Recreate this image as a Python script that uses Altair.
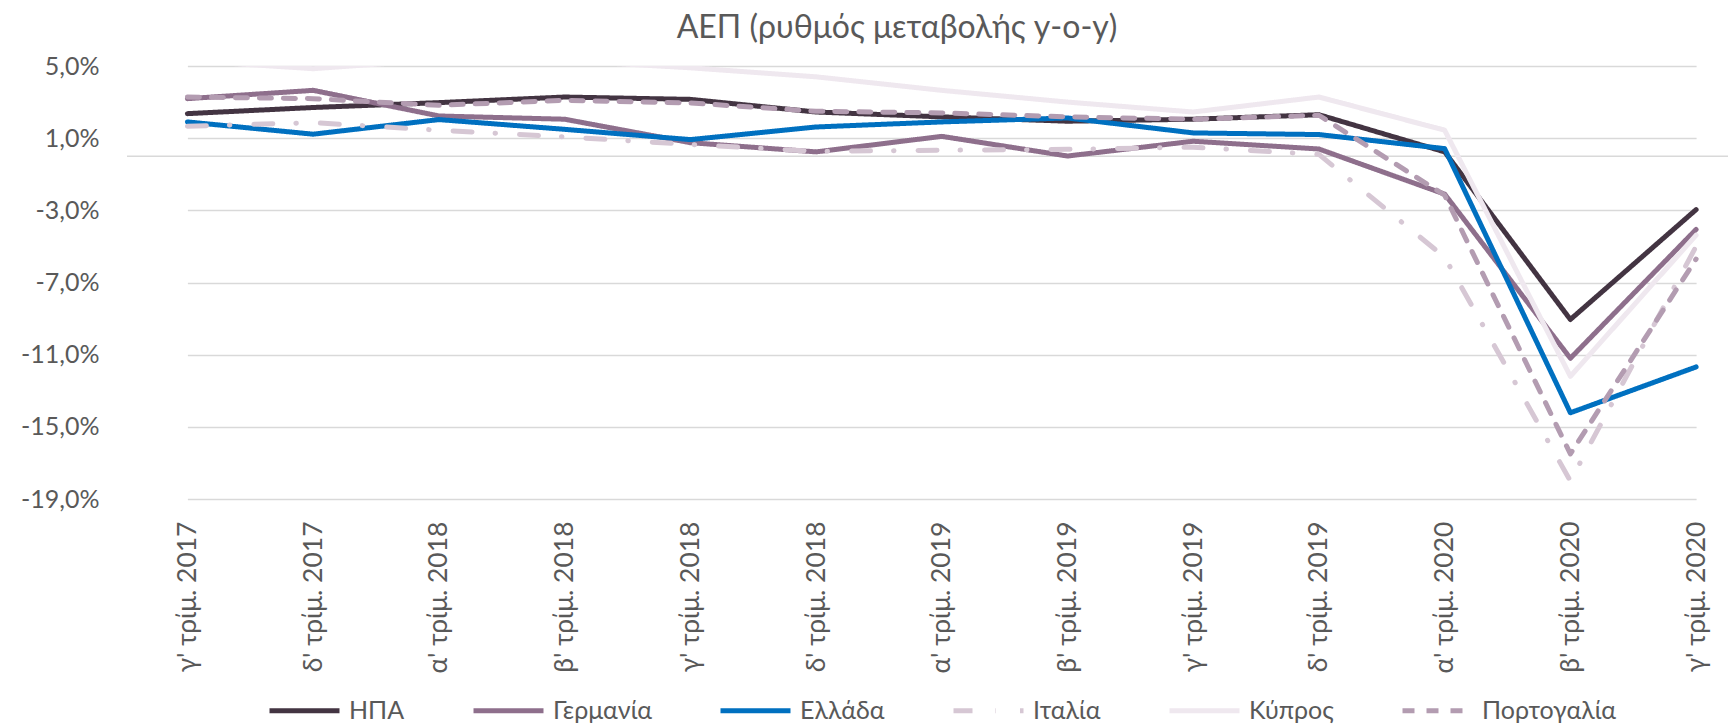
import altair as alt
import pandas as pd

categories = ["γ' τρίμ. 2017", "δ' τρίμ. 2017", "α' τρίμ. 2018", "β' τρίμ. 2018",
              "γ' τρίμ. 2018", "δ' τρίμ. 2018", "α' τρίμ. 2019", "β' τρίμ. 2019",
              "γ' τρίμ. 2019", "δ' τρίμ. 2019", "α' τρίμ. 2020", "β' τρίμ. 2020",
              "γ' τρίμ. 2020"]

usa      = [2.36, 2.70, 2.97, 3.28, 3.15, 2.45, 2.18, 1.94, 2.05, 2.30, 0.24, -9.05, -2.96]
germany  = [3.19, 3.65, 2.23, 2.05, 0.75, 0.24, 1.10, 0.01, 0.83, 0.40, -2.10, -11.20, -4.06]
greece   = [1.90, 1.22, 2.03, 1.49, 0.92, 1.62, 1.90, 2.12, 1.29, 1.20, 0.42, -14.22, -11.68]
italy    = [1.66, 1.86, 1.44, 1.07, 0.65, 0.27, 0.33, 0.38, 0.50, 0.10, -5.60, -18.00, -5.00]
cyprus   = [5.30, 4.85, 5.35, 5.30, 4.90, 4.40, 3.65, 3.00, 2.45, 3.28, 1.44, -12.20, -4.38]
portugal = [3.28, 3.19, 2.82, 3.10, 2.95, 2.49, 2.40, 2.18, 2.05, 2.27, -2.16, -16.50, -5.70]

series_names = ["ΗΠΑ", "Γερμανία", "Ελλάδα", "Ιταλία", "Κύπρος", "Πορτογαλία"]
series_values = [usa, germany, greece, italy, cyprus, portugal]
series_colors = ["#433442", "#8E6F8C", "#0070C0", "#D6C7D4", "#EFE8EF", "#B39CB1"]
series_dashes = [[1, 0], [1, 0], [1, 0], [19, 23, 0.5, 24], [1, 0], [12, 12]]

y_ticks = [-19, -15, -11, -7, -3, 1, 5]
title_text = "ΑΕΠ (ρυθμός μεταβολής y-o-y)"

rows = []
for si, (name, vals) in enumerate(zip(series_names, series_values)):
    for ci, (cat, v) in enumerate(zip(categories, vals)):
        rows.append({"quarter": cat, "country": name, "value": v, "order": si})
df = pd.DataFrame(rows)

FONT = "Lato, Open Sans, sans-serif"
TXT = "#595959"

x_enc = alt.X("quarter:N", sort=categories,
              scale=alt.Scale(type="point", range=[60.4, 1569.1], padding=0),
              axis=alt.Axis(title=None, labelAngle=-90, labelFontSize=26.5, labelColor=TXT,
                            labelFont=FONT, domain=False, ticks=False, grid=False,
                            labelPadding=22))
y_scale = alt.Scale(domain=[-19, 5], nice=False, zero=False)

legend_kw = dict(title=None, orient="none", legendX=140, legendY=607,
                 direction="horizontal", columns=6, symbolType="stroke",
                 symbolSize=4900, symbolStrokeWidth=5, labelFontSize=25,
                 labelColor=TXT, labelFont=FONT, labelOffset=7,
                 columnPadding=58, padding=0)

lines = alt.Chart(df).mark_line(strokeWidth=5, strokeCap="round", strokeJoin="round", clip=True).encode(
    x=x_enc,
    y=alt.Y("value:Q", scale=y_scale,
            axis=alt.Axis(title=None, values=y_ticks, grid=True, gridColor="#D9D9D9", gridWidth=1.5,
                          domain=False, ticks=False, labelFontSize=25, labelColor=TXT, labelFont=FONT,
                          labelPadding=28,
                          labelExpr="(datum.value < 0 ? '-' : '') + replace(format(abs(datum.value), '.1f'), '.', ',') + '%'")),
    color=alt.Color("country:N", sort=series_names,
                    scale=alt.Scale(domain=series_names, range=series_colors),
                    legend=alt.Legend(**legend_kw)),
    strokeDash=alt.StrokeDash("country:N", sort=series_names,
                              scale=alt.Scale(domain=series_names, range=series_dashes),
                              legend=alt.Legend(**legend_kw)),
    order=alt.Order("order:Q"),
)

zero_line = alt.Chart(pd.DataFrame({"z": [0]})).mark_rule(color="#D9D9D9", strokeWidth=1.5).encode(
    y=alt.Y("z:Q", scale=y_scale)
)

title = alt.Chart(pd.DataFrame({"t": [title_text]})).mark_text(
    fontSize=32, font=FONT, color=TXT, align="center", baseline="middle"
).encode(
    text="t:N", x=alt.value(770), y=alt.value(-38)
)

chart = alt.layer(zero_line, lines, title).properties(
    width=1601, height=433,
    padding={"left": 119, "top": 58, "right": 0, "bottom": 226},
    autosize=alt.AutoSizeParams(type="none"),
).configure_view(stroke=None)

chart.save("out.html", embed_options={"renderer": "svg", "actions": False})
